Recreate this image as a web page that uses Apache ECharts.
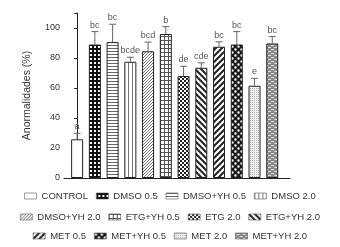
<!DOCTYPE html>
<html>
<head>
<meta charset="utf-8">
<script src="https://cdn.jsdelivr.net/npm/echarts@6/dist/echarts.min.js"></script>
<style>
  html, body { margin: 0; padding: 0; background: #fff; }
  #chart { width: 340px; height: 247px; }
</style>
</head>
<body>
<div id="chart"></div>
<script>
// grupos
var categories = ["CONTROL", "DMSO 0.5", "DMSO+YH 0.5", "DMSO 2.0",
  "DMSO+YH 2.0", "ETG+YH 0.5", "ETG 2.0", "ETG+YH 2.0",
  "MET 0.5", "MET+YH 0.5", "MET 2.0", "MET+YH 2.0"];
// media (%)
var means = [25.8, 89, 90.6, 77.5, 84.5, 96, 68, 73.5, 87.5, 89, 61.5, 89.7];
// media + error
var upper = [29.8, 97.6, 102.5, 80.5, 90.6, 100.9, 74.5, 76.8, 90.8, 97.6, 66.4, 94.3];
// letras
var letters = ["a", "bc", "bc", "bcde", "bcd", "b", "de", "cde", "bc", "bc", "e", "bc"];
var yTicks = [0, 20, 40, 60, 80, 100];

// patrones de relleno
function tile(w, h, draw) {
  var c = document.createElement("canvas");
  c.width = w;
  c.height = h;
  var ctx = c.getContext("2d");
  draw(ctx, w, h);
  return { image: c, repeat: "repeat" };
}
function fill(ctx, w, h, col) {
  ctx.fillStyle = col;
  ctx.fillRect(0, 0, w, h);
}
var patterns = [
  "#ffffff",
  // rejilla gruesa negra
  tile(4, 4, function (ctx, w, h) {
    fill(ctx, w, h, "#fff");
    ctx.fillStyle = "#111";
    ctx.fillRect(0, 0, 4, 2);
    ctx.fillRect(0, 0, 2, 4);
  }),
  // horizontales
  tile(4, 3, function (ctx, w, h) {
    fill(ctx, w, h, "#fff");
    ctx.fillStyle = "#666";
    ctx.fillRect(0, 0, 4, 1);
  }),
  // verticales
  tile(4, 4, function (ctx, w, h) {
    fill(ctx, w, h, "#fff");
    ctx.fillStyle = "#777";
    ctx.fillRect(0, 0, 1, 4);
  }),
  // diagonal fina
  tile(3, 3, function (ctx, w, h) {
    fill(ctx, w, h, "#fff");
    ctx.fillStyle = "#777";
    ctx.fillRect(2, 0, 1, 1);
    ctx.fillRect(1, 1, 1, 1);
    ctx.fillRect(0, 2, 1, 1);
  }),
  // rejilla fina
  tile(4, 4, function (ctx, w, h) {
    fill(ctx, w, h, "#fff");
    ctx.fillStyle = "#555";
    ctx.fillRect(0, 0, 4, 1);
    ctx.fillRect(0, 0, 1, 4);
  }),
  // damero
  tile(4, 4, function (ctx, w, h) {
    fill(ctx, w, h, "#fff");
    ctx.fillStyle = "#222";
    ctx.fillRect(0, 0, 2, 2);
    ctx.fillRect(2, 2, 2, 2);
  }),
  // diagonal gruesa "\"
  tile(6, 6, function (ctx, w, h) {
    fill(ctx, w, h, "#fff");
    ctx.strokeStyle = "#222";
    ctx.lineWidth = 2;
    ctx.beginPath();
    ctx.moveTo(-3, -3); ctx.lineTo(9, 9);
    ctx.moveTo(-3, 3); ctx.lineTo(3, 9);
    ctx.moveTo(3, -3); ctx.lineTo(9, 3);
    ctx.stroke();
  }),
  // diagonal gruesa "/"
  tile(6, 6, function (ctx, w, h) {
    fill(ctx, w, h, "#fff");
    ctx.strokeStyle = "#222";
    ctx.lineWidth = 2;
    ctx.beginPath();
    ctx.moveTo(9, -3); ctx.lineTo(-3, 9);
    ctx.moveTo(3, -3); ctx.lineTo(-3, 3);
    ctx.moveTo(9, 3); ctx.lineTo(3, 9);
    ctx.stroke();
  }),
  // negro con circulos blancos
  tile(6, 6, function (ctx, w, h) {
    fill(ctx, w, h, "#1a1a1a");
    ctx.fillStyle = "#fff";
    ctx.beginPath();
    ctx.arc(1.5, 1.5, 1.2, 0, Math.PI * 2);
    ctx.arc(4.5, 4.5, 1.2, 0, Math.PI * 2);
    ctx.fill();
  }),
  // punteado claro
  tile(2, 2, function (ctx, w, h) {
    fill(ctx, w, h, "#f2f2f2");
    ctx.fillStyle = "#aaa";
    ctx.fillRect(0, 0, 1, 1);
  }),
  // ladrillo gris
  tile(6, 4, function (ctx, w, h) {
    fill(ctx, w, h, "#8a8a8a");
    ctx.fillStyle = "#e0e0e0";
    ctx.fillRect(1, 1, 3, 1);
    ctx.fillRect(4, 3, 2, 1);
    ctx.fillRect(0, 3, 1, 1);
  })
];

var myChart = echarts.init(document.getElementById("chart"));

var series = [];
for (var i = 0; i < categories.length; i++) {
  series.push({
    name: categories[i],
    type: "bar",
    barWidth: 12,
    barGap: "-100%",
    itemStyle: {
      color: patterns[i],
      borderColor: "#222",
      borderWidth: 1
    },
    data: [[i, means[i]]]
  });
}

var errData = [];
for (var j = 0; j < categories.length; j++) {
  errData.push([j, means[j], upper[j]]);
}
series.push({
  type: "custom",
  silent: true,
  data: errData,
  z: 5,
  renderItem: function (params, api) {
    var x = api.value(0);
    var p0 = api.coord([x, api.value(1)]);
    var p1 = api.coord([x, api.value(2)]);
    var st = { stroke: "#666", lineWidth: 1 };
    return {
      type: "group",
      children: [
        { type: "line", shape: { x1: p0[0], y1: p0[1], x2: p1[0], y2: p1[1] }, style: st },
        { type: "line", shape: { x1: p1[0] - 3.5, y1: p1[1], x2: p1[0] + 3.5, y2: p1[1] }, style: st },
        {
          type: "text",
          x: p1[0],
          y: p1[1] - 2,
          style: {
            text: letters[params.dataIndex],
            fill: "#555",
            font: "9px 'Liberation Sans', Arial, sans-serif",
            align: "center",
            verticalAlign: "bottom"
          }
        }
      ]
    };
  }
});

function legendRow(items, top) {
  return {
    data: items,
    top: top,
    left: "center",
    itemWidth: 12,
    itemHeight: 6,
    itemGap: 8,
    icon: "rect",
    selectedMode: false,
    itemStyle: { borderWidth: 0.6, borderColor: "#555" },
    textStyle: {
      fontSize: 9.5,
      color: "#333",
      fontFamily: "'Liberation Sans', Arial, sans-serif"
    }
  };
}

var option = {
  animation: false,
  textStyle: { fontFamily: "'Liberation Sans', Arial, sans-serif" },
  grid: {
    left: 64,
    right: 50,
    top: 13,
    bottom: 69
  },
  legend: [
    legendRow(categories.slice(0, 4), 186),
    legendRow(categories.slice(4, 8), 207),
    legendRow(categories.slice(8, 12), 226)
  ],
  xAxis: {
    type: "value",
    min: -0.74,
    max: 12,
    axisLine: { show: true, lineStyle: { color: "#222", width: 1 } },
    axisTick: { show: false },
    axisLabel: { show: false },
    splitLine: { show: false }
  },
  yAxis: {
    type: "value",
    min: 0,
    max: 110,
    interval: 20,
    name: "Anormalidades (%)",
    nameLocation: "middle",
    nameGap: 31,
    nameTextStyle: { fontSize: 10.5, color: "#333" },
    axisLine: { show: true, lineStyle: { color: "#222", width: 1 } },
    axisTick: { show: true, length: 3, lineStyle: { color: "#222" } },
    axisLabel: {
      fontSize: 9,
      color: "#333",
      margin: 4,
      formatter: function (v) {
        return yTicks.indexOf(v) >= 0 ? String(v) : "";
      }
    },
    splitLine: { show: false }
  },
  series: series
};

myChart.setOption(option);
</script>
</body>
</html>
